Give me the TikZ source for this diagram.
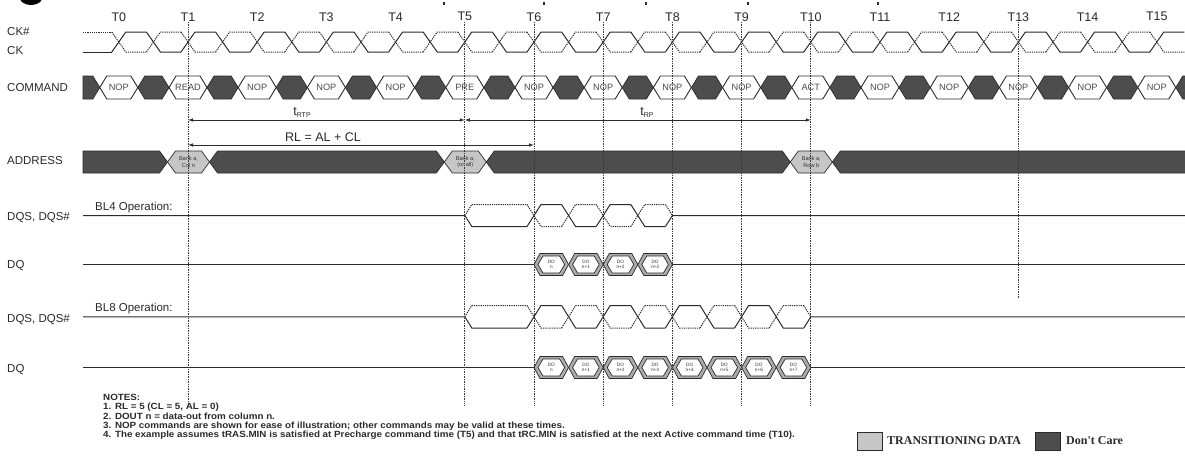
\documentclass[tikz,border=0pt]{standalone}
\usepackage{fontspec}
\setmainfont{Liberation Sans}
\newfontfamily\legendfont{Liberation Serif}
\usetikzlibrary{arrows.meta}
\definecolor{dc}{HTML}{4D4D4D}
\definecolor{td}{HTML}{C6C6C6}
\definecolor{dqg}{HTML}{ABABAB}
\definecolor{ln}{HTML}{2B2B2B}
\newcommand\hexcell[6]{\filldraw[#6] ({#1},{(#3+#4)/2}) -- ({#1+#5},{#3}) -- ({#2-#5},{#3}) -- ({#2},{(#3+#4)/2}) -- ({#2-#5},{#4}) -- ({#1+#5},{#4}) -- cycle;}
% DQS row: #1 top, #2 bottom, #3 last crossing index
\newcommand\dqsrow[3]{%
  \pgfmathsetmacro\mA{(#1+#2)/2}
  \pgfmathsetmacro\eA{534+(#3+1)*34.6}
  \draw[sig] (83,\mA) -- (464.8,\mA) -- (471.8,#2) -- (527,#2);
  \draw[sigdot] (464.8,\mA) -- (471.8,#1) -- (527,#1);
  \foreach \k in {0,...,#3}{
    \pgfmathsetmacro\cA{534+\k*34.6}
    \ifodd\k\relax
      \draw[sig] ({\cA-7},#1) -- ({\cA+7},#2) -- ({\cA+27.6},#2);
      \draw[sigdot] ({\cA-7},#2) -- ({\cA+7},#1) -- ({\cA+27.6},#1);
    \else
      \draw[sig] ({\cA-7},#2) -- ({\cA+7},#1) -- ({\cA+27.6},#1);
      \draw[sigdot] ({\cA-7},#1) -- ({\cA+7},#2) -- ({\cA+27.6},#2);
    \fi
  }
  \draw[sig] ({\eA-7},#2) -- (\eA,\mA) -- (1190,\mA);
  \draw[sigdot] ({\eA-7},#1) -- (\eA,\mA);
}
% DQ row: #1 mid, #2 last cell index, #3 name prefix
\newcommand\dqrow[3]{%
  \draw[sig] (83,#1) -- (534,#1);
  \foreach \k in {0,...,#2}{
    \pgfmathsetmacro\cA{534+\k*34.6}
    \hexcell{\cA}{\cA+34.6}{#1-11}{#1+11}{6}{dqo}
    \hexcell{\cA+4}{\cA+30.6}{#1-8.5}{#1+8.5}{5}{dqi}
    \node[dqtxt] (#3\k) at ({\cA+17.3},#1) {DO\\\ifnum\k=0 n\else n+\k\fi};
  }
  \pgfmathsetmacro\eA{534+(#2+1)*34.6}
  \draw[sig] (\eA,#1) -- (1190,#1);
}
\newcommand\notetext[1]{\scalebox{1.09}[1]{#1}}
\begin{document}
\begin{tikzpicture}[x=1pt,y=-1pt,
  sig/.style={draw=ln, line width=1pt},
  sigdot/.style={draw=ln, line width=1pt, dash pattern=on 1.2pt off 1pt},
  dcell/.style={fill=dc, draw=ln, line width=0.7pt},
  wcell/.style={fill=white, draw=ln, line width=0.9pt},
  tcell/.style={fill=td, draw=ln, line width=0.7pt},
  dqo/.style={fill=dqg, draw=ln, line width=0.7pt},
  dqi/.style={fill=white, draw=ln, line width=0.7pt},
  lbl/.style={font=\fontsize{11.5}{13}\selectfont, text=ln, inner sep=0pt, anchor=west},
  tl/.style={font=\fontsize{12.5}{13}\selectfont, text=ln, inner sep=0pt},
  cmdtxt/.style={font=\fontsize{9.2}{10}\selectfont, text=ln!85, inner sep=0pt},
  addrtxt/.style={font=\fontsize{5.6}{6.4}\selectfont, text=gray!40!black, align=center, inner sep=0pt},
  dqtxt/.style={font=\fontsize{4.7}{5.2}\selectfont, text=gray!40!black, align=center, inner sep=0pt},
  vline/.style={draw=gray!45!black, line width=0.7pt, dash pattern=on 1pt off 0.7pt},
  dim/.style={draw=ln, line width=0.8pt, {Latex[length=5pt,width=3.5pt]}-{Latex[length=5pt,width=3.5pt]}},
  note/.style={font=\bfseries\fontsize{9}{9.5}\selectfont, text=ln, inner sep=0pt, anchor=west},
  legtxt/.style={font=\legendfont\bfseries\fontsize{12}{12}\selectfont, text=ln, inner sep=0pt, anchor=west}
]
\useasboundingbox (0,0) rectangle (1185,455);
\fill[white] (0,0) rectangle (1185,455);
\begin{scope}
\clip (0,0) rectangle (1185,455);
% remnants at top
\fill[black] (31,-2) ellipse [x radius=11, y radius=7];
\foreach \xm in {443,543,645,747,877}{\fill[ln] (\xm,2) rectangle ({\xm+2},5);}

% clock labels
\foreach \n in {0,...,15}{\node[tl] (T\n) at ({118.8+\n*69.2},16.7) {T\n};}
\node[lbl] (lckb) at (7,31.7) {CK\#};
\node[lbl] (lck) at (7,50.5) {CK};
\node[lbl] (lcmd) at (7,87.5) {COMMAND};
\node[lbl] (ladr) at (7,161) {ADDRESS};
\node[lbl] (ldqs1) at (7,218) {DQS, DQS\#};
\node[lbl] (ldq1) at (7,266) {DQ};
\node[lbl] (ldqs2) at (7,320) {DQS, DQS\#};
\node[lbl] (ldq2) at (7,370) {DQ};

% clock
\draw[sig] (83,52) -- (111.8,52);
\draw[sigdot] (83,32) -- (111.8,32);
\foreach \k in {0,...,30}{
  \pgfmathsetmacro\cA{118.8+\k*34.6}
  \ifodd\k\relax
    \draw[sig] ({\cA-7},32) -- ({\cA+7},52) -- ({\cA+27.6},52);
    \draw[sigdot] ({\cA-7},52) -- ({\cA+7},32) -- ({\cA+27.6},32);
  \else
    \draw[sig] ({\cA-7},52) -- ({\cA+7},32) -- ({\cA+27.6},32);
    \draw[sigdot] ({\cA-7},32) -- ({\cA+7},52) -- ({\cA+27.6},52);
  \fi
}

% command row
\filldraw[dcell] (83,76) -- (92.8,76) -- (99.8,87.5) -- (92.8,99) -- (83,99) -- cycle;
\foreach \n/\lab in {0/NOP,1/READ,2/NOP,3/NOP,4/NOP,5/PRE,6/NOP,7/NOP,8/NOP,9/NOP,10/ACT,11/NOP,12/NOP,13/NOP,14/NOP,15/NOP}{
  \pgfmathsetmacro\cA{118.8+\n*69.2}
  \hexcell{\cA-19}{\cA+19}{76}{99}{7}{wcell}
  \node[cmdtxt] (cmd\n) at (\cA,87.5) {\lab};
  \hexcell{\cA+19}{\cA+50.2}{76}{99}{7}{dcell}
}

% address row
\filldraw[dcell] (83,151) -- (159.5,151) -- (167.5,162) -- (159.5,173) -- (83,173) -- cycle;
\hexcell{167.5}{209.5}{151}{173}{8}{tcell}
\hexcell{209.5}{444.3}{151}{173}{8}{dcell}
\hexcell{444.3}{486.3}{151}{173}{8}{tcell}
\hexcell{486.3}{790.3}{151}{173}{8}{dcell}
\hexcell{790.3}{832.3}{151}{173}{8}{tcell}
\hexcell{832.3}{1210}{151}{173}{8}{dcell}
\node[addrtxt] (a1) at (188.5,162) {Bank a,\\Col n};
\node[addrtxt] (a5) at (465.3,162) {Bank a,\\(or all)};
\node[addrtxt] (a10) at (811.3,162) {Bank a,\\Row b};

% timing arrows
\coordinate (r1) at (188,120);
\coordinate (r5) at (464.8,120);
\coordinate (r10) at (810.8,120);
\coordinate (l1) at (188,145);
\coordinate (l6) at (534,145);
\draw[dim] (r1) -- (r5);
\draw[dim] (r5) -- (r10);
\draw[dim] (l1) -- (l6);
\node[tl] (trtp) at (302,112.5) {t{\fontsize{7}{7}\selectfont\raisebox{-1.5pt}{RTP}}};
\node[tl] (trp) at (647,112.5) {t{\fontsize{7}{7}\selectfont\raisebox{-1.5pt}{RP}}};
\node[tl] (rl) at (323,136.7) {RL = AL + CL};

% DQS / DQ rows
\node[lbl] (bl4) at (95,207.5) {BL4 Operation:};
\dqsrow{204.5}{226.5}{3}
\dqrow{264.5}{3}{dqa}
\node[lbl] (bl8) at (95,309) {BL8 Operation:};
\dqsrow{305.5}{328}{7}
\dqrow{367.5}{7}{dqb}

% vertical reference lines
\foreach \n in {1,5,6,7,8,9,10}{\draw[vline] ({118.8+\n*69.2},22) -- ({118.8+\n*69.2},406);}
\draw[vline] (1018.4,22) -- (1018.4,298);

% notes
\node[note] (n0) at (103,397) {\notetext{NOTES:}};
\node[note] (n1) at (103,407) {\notetext{1. RL = 5 (CL = 5, AL = 0)}};
\node[note] (n2) at (103,416.5) {\notetext{2. DOUT n = data-out from column n.}};
\node[note] (n3) at (103,426) {\notetext{3. NOP commands are shown for ease of illustration; other commands may be valid at these times.}};
\node[note] (n4) at (103,435.5) {\notetext{4. The example assumes tRAS.MIN is satisfied at Precharge command time (T5) and that tRC.MIN is satisfied at the next Active command time (T10).}};

% legend
\filldraw[fill=td, draw=ln, line width=0.8pt] (857,432) rectangle (882,450);
\node[legtxt] (lg1) at (887,441) {TRANSITIONING DATA};
\filldraw[fill=dc, draw=ln, line width=0.8pt] (1035,432) rectangle (1060,450);
\node[legtxt] (lg2) at (1066,441) {Don't Care};
\end{scope}
\end{tikzpicture}
\end{document}
